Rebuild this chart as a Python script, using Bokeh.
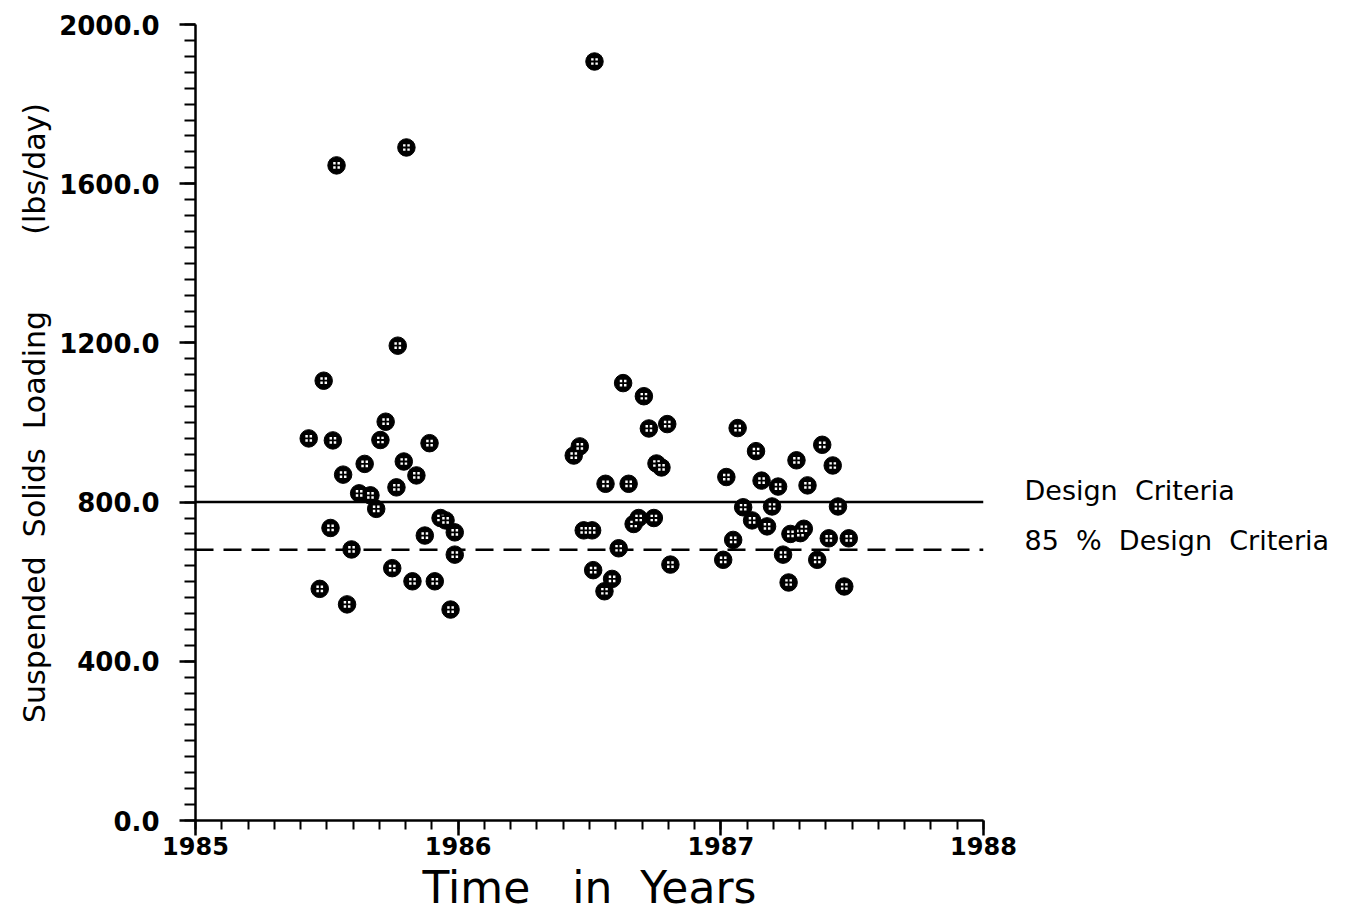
from bokeh.plotting import figure
from bokeh.layouts import row
from bokeh.models import Range1d, FixedTicker, PrintfTickFormatter
from bokeh.core.properties import value
from bokeh.embed import file_html
from bokeh.resources import INLINE

# ---- data ----
years = [
    1985.431, 1985.488, 1985.523, 1985.537, 1985.473, 1985.514, 1985.562, 1985.577,
    1985.594, 1985.623, 1985.644, 1985.666, 1985.688, 1985.704, 1985.724, 1985.749,
    1985.765, 1985.770, 1985.793, 1985.803, 1985.826, 1985.841, 1985.873, 1985.891,
    1985.911, 1985.933, 1985.952, 1985.971, 1985.987, 1985.987,
    1986.440, 1986.463, 1986.478, 1986.510, 1986.514, 1986.519, 1986.557, 1986.561,
    1986.586, 1986.611, 1986.628, 1986.649, 1986.668, 1986.687, 1986.707, 1986.726,
    1986.745, 1986.755, 1986.774, 1986.796, 1986.808,
    1987.009, 1987.021, 1987.047, 1987.064, 1987.085, 1987.119, 1987.134, 1987.155,
    1987.176, 1987.195, 1987.218, 1987.237, 1987.258, 1987.265, 1987.288, 1987.303,
    1987.316, 1987.330, 1987.367, 1987.386, 1987.411, 1987.426, 1987.446, 1987.470,
    1987.487,
]
loads = [
    960, 1105, 955, 1646, 582, 735, 869, 543,
    681, 822, 896, 817, 783, 956, 1002, 634,
    837, 1193, 902, 1691, 601, 867, 716, 948,
    601, 760, 754, 530, 724, 668,
    917, 940, 729, 729, 629, 1907, 576, 846,
    607, 684, 1099, 846, 745, 760, 1066, 985,
    760, 897, 887, 996, 643,
    655, 863, 705, 986, 787, 754, 928, 854,
    739, 789, 839, 668, 598, 720, 905, 722,
    733, 842, 655, 944, 709, 892, 789, 588,
    709,
]
design_criteria = 800
design_85 = 680
x_ticks = [1985, 1986, 1987, 1988]
y_ticks = [0, 400, 800, 1200, 1600, 2000]
line_x = [1985, 1988]
criteria_labels = ["Design\u00a0\u00a0Criteria",
                   "85\u00a0\u00a0%\u00a0\u00a0Design\u00a0\u00a0Criteria"]
criteria_values = [design_criteria, design_85]

FONT = "DejaVu Sans"
NB = "\u00a0"

p = figure(output_backend="svg", toolbar_location=None,
           frame_width=788, frame_height=796,
           min_border_left=195, min_border_top=24, min_border_bottom=92,
           min_border_right=36,
           x_range=Range1d(1985, 1988), y_range=Range1d(0, 2000),
           background_fill_color="white", border_fill_color="white")
p.outline_line_color = None
p.grid.visible = False

for ax in (p.xaxis[0], p.yaxis[0]):
    ax.axis_line_width = 2.5
    ax.axis_line_color = "black"
    ax.major_tick_line_width = 2.5
    ax.minor_tick_line_width = 2
    ax.major_tick_line_color = "black"
    ax.minor_tick_line_color = "black"
    ax.major_tick_in = 0
    ax.minor_tick_in = 0
    ax.major_label_text_font = FONT
    ax.major_label_text_font_style = "bold"
    ax.major_label_text_color = "black"
    ax.axis_label_text_color = "black"
    ax.axis_label_text_font = FONT
    ax.axis_label_text_font_style = "normal"

p.xaxis.ticker = FixedTicker(ticks=x_ticks,
                             minor_ticks=[1985 + i * 0.1 for i in range(31)])
p.xaxis.formatter = PrintfTickFormatter(format="%d")
p.xaxis.major_tick_out = 15
p.xaxis.minor_tick_out = 9
p.xaxis.major_label_standoff = 1
p.xaxis.major_label_text_font_size = "24px"
p.xaxis.axis_label = "Time" + NB * 3 + "in" + NB * 2 + "Years"
p.xaxis.axis_label_text_font_size = "44px"
p.xaxis.axis_label_standoff = 4

p.yaxis.ticker = FixedTicker(ticks=y_ticks,
                             minor_ticks=[i * 40 for i in range(51)])
p.yaxis.formatter = PrintfTickFormatter(format="%.1f")
p.yaxis.major_tick_out = 16
p.yaxis.minor_tick_out = 11
p.yaxis.major_label_standoff = 20
p.yaxis.major_label_text_font_size = "26px"
p.yaxis.axis_label = (NB * 2 + "Suspended" + NB * 2 + "Solids" + NB * 2 + "Loading"
                      + NB * 8 + "(lbs/day)")
p.yaxis.axis_label_text_font_size = "30px"
p.yaxis.axis_label_standoff = 4

# criteria lines
p.line(line_x, [design_criteria] * 2, line_color="black", line_width=2.5)
p.line(line_x, [design_85] * 2, line_color="black", line_width=2.5,
       line_dash="18 10")

# markers: black disc with four white dots
p.scatter(years, loads, marker="circle", size=17.5, fill_color="black",
          line_color="black", line_width=1)
p.scatter(years, loads, marker="square_cross", size=8.5, fill_color="white",
          line_color="black", line_width=1.8)

# right-hand label panel sharing the y range
p2 = figure(output_backend="svg", toolbar_location=None,
            frame_width=330, frame_height=796,
            min_border_left=0, min_border_right=0,
            min_border_top=24, min_border_bottom=92,
            x_axis_location=None, y_axis_location=None,
            x_range=Range1d(0, 1), y_range=p.y_range,
            background_fill_color="white", border_fill_color="white")
p2.outline_line_color = None
p2.grid.visible = False
p2.text(x=[0, 0], y=criteria_values, text=criteria_labels,
        x_offset=[5, 5], y_offset=[-12, -9],
        text_font=value(FONT), text_font_size="27px",
        text_baseline="middle", text_align="left", text_color="black")

layout = row(p, p2)
open("out.html", "w").write(file_html(layout, INLINE))
